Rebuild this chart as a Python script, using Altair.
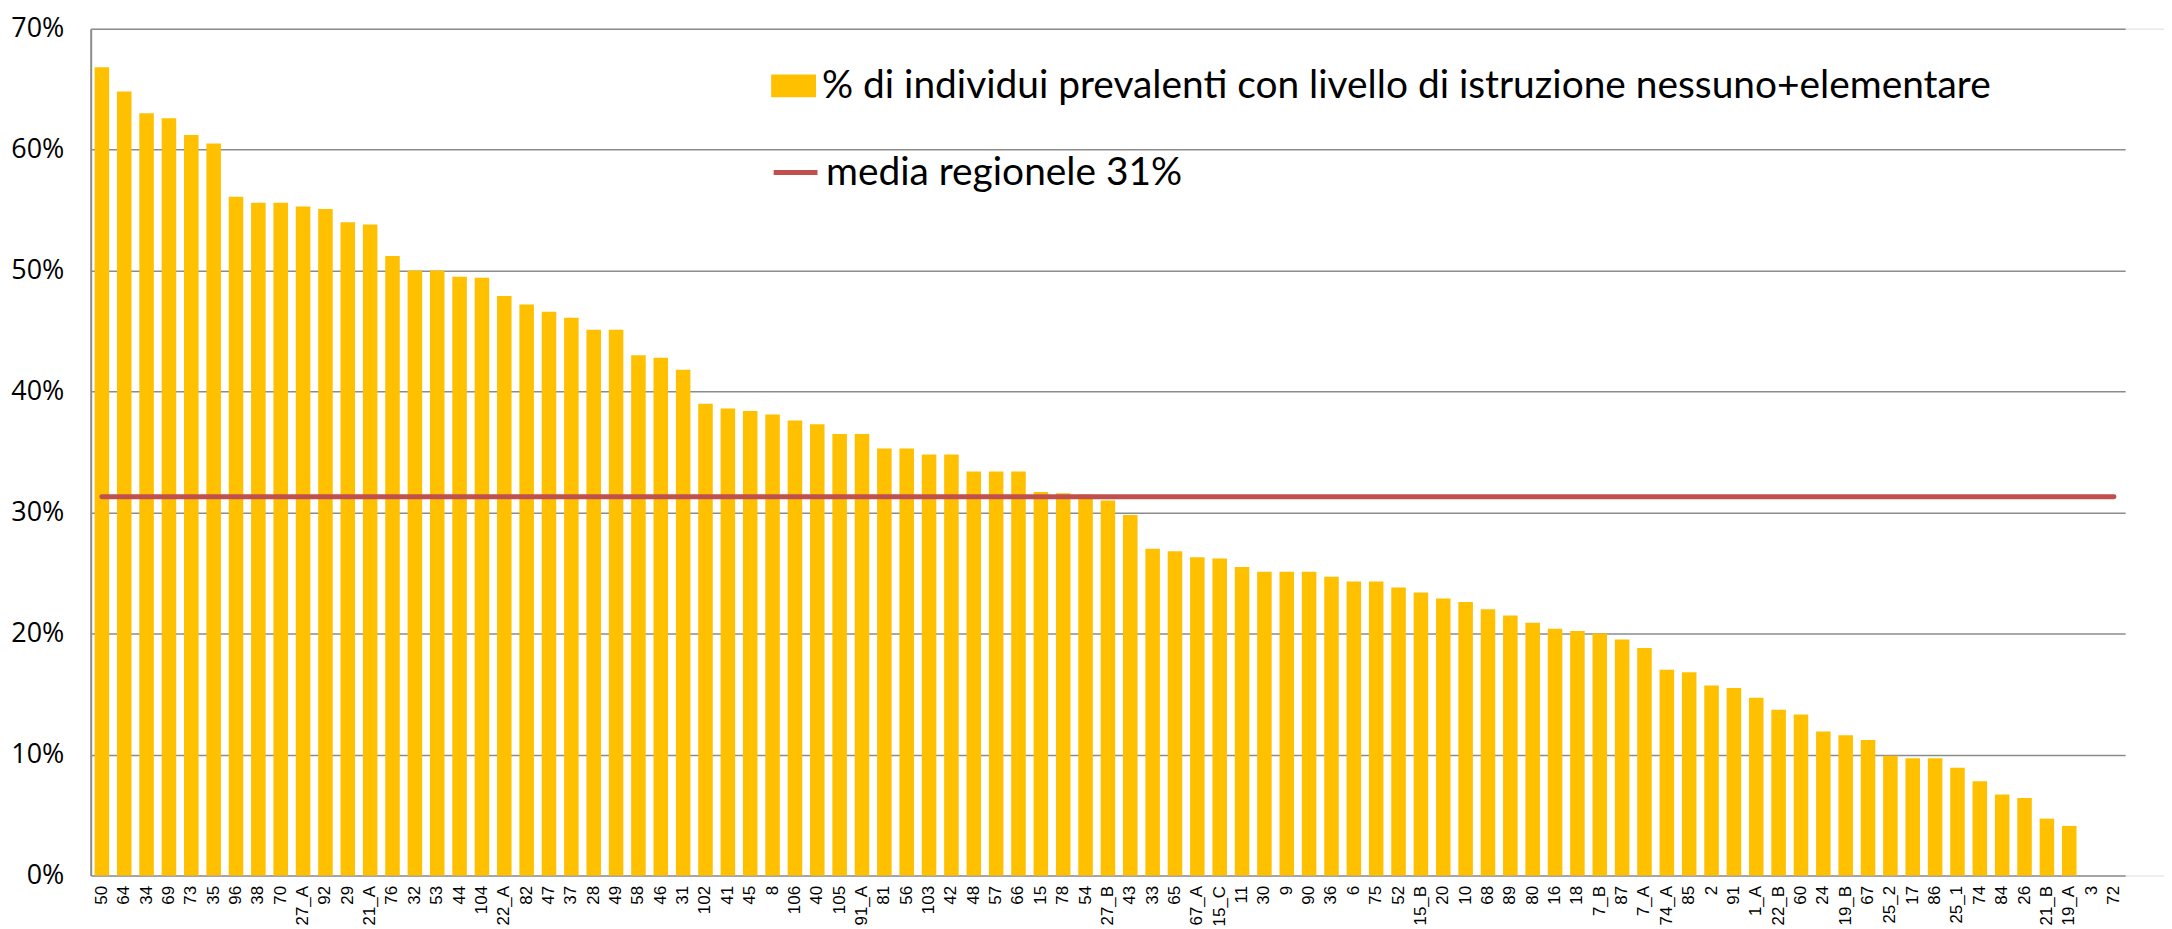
import altair as alt
import pandas as pd

categories = ["50", "64", "34", "69", "73", "35", "96", "38", "70", "27_A", "92", "29", "21_A", "76",
              "32", "53", "44", "104", "22_A", "82", "47", "37", "28", "49", "58", "46", "31", "102",
              "41", "45", "8", "106", "40", "105", "91_A", "81", "56", "103", "42", "48", "57", "66",
              "15", "78", "54", "27_B", "43", "33", "65", "67_A", "15_C", "11", "30", "9", "90", "36",
              "6", "75", "52", "15_B", "20", "10", "68", "89", "80", "16", "18", "7_B", "87", "7_A",
              "74_A", "85", "2", "91", "1_A", "22_B", "60", "24", "19_B", "67", "25_2", "17", "86",
              "25_1", "74", "84", "26", "21_B", "19_A", "3", "72"]

values = [66.8, 64.8, 63.0, 62.6, 61.2, 60.5, 56.1, 55.6, 55.6, 55.3, 55.1, 54.0, 53.8, 51.2,
          50.0, 50.0, 49.5, 49.4, 47.9, 47.2, 46.6, 46.1, 45.1, 45.1, 43.0, 42.8, 41.8, 39.0,
          38.6, 38.4, 38.1, 37.6, 37.3, 36.5, 36.5, 35.3, 35.3, 34.8, 34.8, 33.4, 33.4, 33.4,
          31.7, 31.6, 31.5, 31.0, 29.8, 27.0, 26.8, 26.3, 26.2, 25.5, 25.1, 25.1, 25.1, 24.7,
          24.3, 24.3, 23.8, 23.4, 22.9, 22.6, 22.0, 21.5, 20.9, 20.4, 20.2, 20.0, 19.5, 18.8,
          17.0, 16.8, 15.7, 15.5, 14.7, 13.7, 13.3, 11.9, 11.6, 11.2, 9.9, 9.7, 9.7,
          8.9, 7.8, 6.7, 6.4, 4.7, 4.1, 0.0, 0.0]

mean_value = 31.3
bar_name = "% di individui prevalenti con livello di istruzione nessuno+elementare"
line_name = "media regionele 31%"
y_ticks = [0, 0.1, 0.2, 0.3, 0.4, 0.5, 0.6, 0.7]

bars_df = pd.DataFrame({"cat": categories, "val": [v / 100 for v in values], "series": bar_name})
line_df = pd.DataFrame({"cat": categories, "val": [mean_value / 100] * len(categories), "series": line_name})

x_enc = alt.X(
    "cat:N", sort=categories,
    scale=alt.Scale(paddingInner=0.35, paddingOuter=0.175, range=[0, 2042]),
    axis=alt.Axis(title=None, labelAngle=-90, labelFont="Liberation Sans",
                  labelFontSize=17, labelColor="black", ticks=False, labelPadding=10,
                  domain=False, grid=False),
)
y_enc = alt.Y(
    "val:Q", scale=alt.Scale(domain=[0, 0.7], nice=False),
    axis=alt.Axis(title=None, format=".0%", values=y_ticks, labelFont="Open Sans",
                  labelFontSize=27, labelColor="black", ticks=False, labelPadding=27,
                  domainColor="#8c8c8c", domainWidth=2, gridColor="#8c8c8c", gridWidth=1.5),
)

legend_common = dict(orient="none", title=None, labelFont="Lato",
                     labelFontSize=39, labelColor="black", labelOffset=6, labelLimit=0)

bars = alt.Chart(bars_df).mark_bar().encode(
    x=x_enc, y=y_enc,
    fill=alt.Fill("series:N", scale=alt.Scale(domain=[bar_name], range=["#FFC000"]),
                  legend=alt.Legend(legendX=683, legendY=35,
                                    symbolType="M-1,-0.51H1V0.51H-1Z", symbolSize=2025,
                                    symbolStrokeWidth=0, **legend_common)),
)

line = alt.Chart(line_df).mark_line(strokeWidth=5, strokeCap="round").encode(
    x=x_enc, y=y_enc,
    stroke=alt.Stroke("series:N", scale=alt.Scale(domain=[line_name], range=["#C0504D"]),
                      legend=alt.Legend(legendX=683, legendY=120, symbolType="stroke",
                                        symbolSize=1936, symbolStrokeWidth=5, **legend_common)),
)

chart = alt.layer(bars, line).resolve_scale(fill="independent", stroke="independent").properties(
    width=2081, height=850,
    autosize=alt.AutoSizeParams(type="none"),
    padding={"left": 83, "top": 19, "right": 0, "bottom": 52},
).configure_view(stroke=None).configure(background="white")

chart.save("out.html", embed_options={"renderer": "svg", "actions": False})
